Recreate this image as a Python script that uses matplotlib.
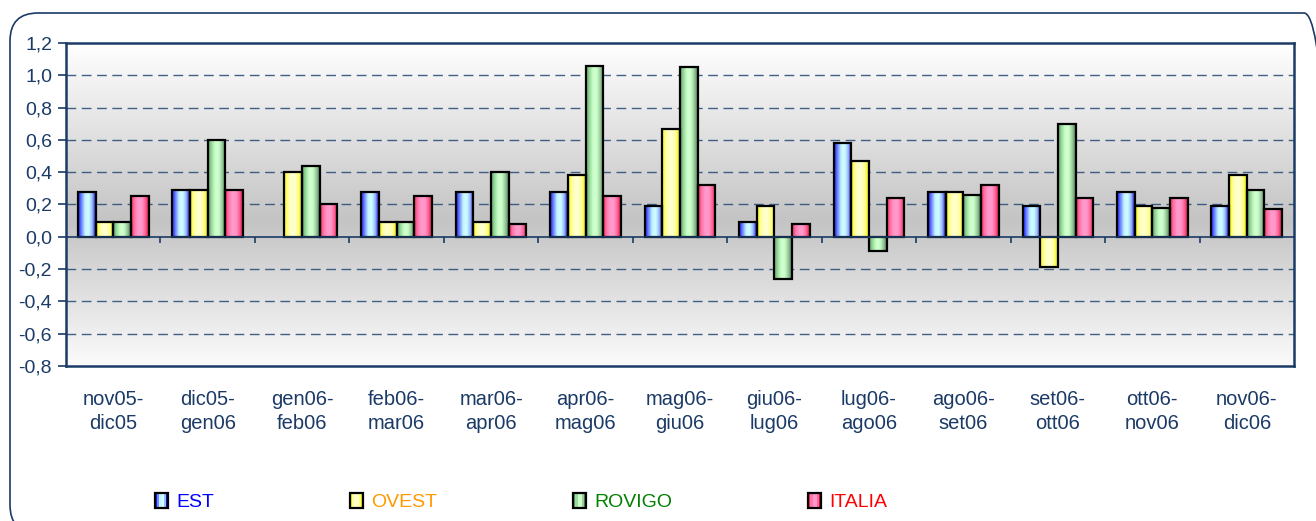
import numpy as np
import matplotlib
matplotlib.use("Agg")
import matplotlib.pyplot as plt
from matplotlib.colors import LinearSegmentedColormap
from matplotlib.patches import FancyBboxPatch, Rectangle
from matplotlib.legend_handler import HandlerBase

plt.rcParams['font.family'] = ['Liberation Sans', 'DejaVu Sans']

# ---------------- data ----------------
categories = ["nov05-\ndic05", "dic05-\ngen06", "gen06-\nfeb06", "feb06-\nmar06",
              "mar06-\napr06", "apr06-\nmag06", "mag06-\ngiu06", "giu06-\nlug06",
              "lug06-\nago06", "ago06-\nset06", "set06-\nott06", "ott06-\nnov06",
              "nov06-\ndic06"]
series_names = ["EST", "OVEST", "ROVIGO", "ITALIA"]
est = [0.28, 0.29, np.nan, 0.28, 0.28, 0.28, 0.19, 0.09, 0.58, 0.28, 0.19, 0.28, 0.19]
ovest = [0.09, 0.29, 0.40, 0.09, 0.09, 0.38, 0.67, 0.19, 0.47, 0.28, -0.19, 0.19, 0.38]
rovigo = [0.09, 0.60, 0.44, 0.09, 0.40, 1.06, 1.05, -0.26, -0.09, 0.26, 0.70, 0.18, 0.29]
italia = [0.25, 0.29, 0.20, 0.25, 0.08, 0.25, 0.32, 0.08, 0.24, 0.32, 0.24, 0.24, 0.17]
yticks = [-0.8, -0.6, -0.4, -0.2, 0.0, 0.2, 0.4, 0.6, 0.8, 1.0, 1.2]
ytick_labels = ["-0,8", "-0,6", "-0,4", "-0,2", "0,0", "0,2", "0,4", "0,6", "0,8", "1,0", "1,2"]

# ---------------- styles ----------------
grad_colors = {
    "EST": ['#1a1aff', '#6f8cff', '#c8f4ff', '#ccffff', '#9ab8ff', '#1010d0'],
    "OVEST": ['#f5f500', '#ffff99', '#ffffcc', '#ffffcc', '#ffff88', '#e6e600'],
    "ROVIGO": ['#5f9f70', '#99dd99', '#ccffcc', '#ccffcc', '#99cc99', '#4f8060'],
    "ITALIA": ['#ff2a5a', '#ff77aa', '#ff99cc', '#ff99cc', '#ff6699', '#dd1144'],
}
text_colors = {"EST": "#0000ff", "OVEST": "#ff9900", "ROVIGO": "#008000", "ITALIA": "#ff0000"}
navy = "#1b3a66"

W, H = 1316, 521
fig = plt.figure(figsize=(W / 100, H / 100), dpi=100)
fig.patch.set_facecolor("white")

# outer rounded frame (coordinates in inches)
frame = FancyBboxPatch((0.10, -0.12), 13.22, 5.20, boxstyle="round,pad=0,rounding_size=0.28",
                       transform=fig.dpi_scale_trans, facecolor="none", edgecolor=navy,
                       linewidth=1.2, zorder=0)
fig.add_artist(frame)

left, right, top, bottom = 66, 1294, 43, 366
ax = fig.add_axes([left / W, 1 - bottom / H, (right - left) / W, (bottom - top) / H])

ymin, ymax = -0.8, 1.2

# background gradient
zfrac = (0.1 - ymin) / (ymax - ymin)
bg_cmap = LinearSegmentedColormap.from_list(
    "bg", [(0, "#fbfbfb"), (zfrac, "#c4c4c4"), (1, "#ffffff")])
grad = np.linspace(0, 1, 256).reshape(-1, 1)
ax.imshow(grad, extent=[0, 1, 0, 1], transform=ax.transAxes, cmap=bg_cmap,
          aspect="auto", origin="lower", zorder=0)

# grid lines
for v in yticks:
    if v in (ymin, ymax, 0.0):
        continue
    ax.axhline(v, color="#2f5079", lw=1.0, dashes=(7, 4), zorder=1, alpha=0.9)

# bars
x = np.arange(len(categories))
bw = 0.187
all_series = [est, ovest, rovigo, italia]
hgrad = np.linspace(0, 1, 64).reshape(1, -1)
for i, (name, vals) in enumerate(zip(series_names, all_series)):
    offs = (i - 1.5) * bw
    bars = ax.bar(x + offs, vals, width=bw, facecolor="none", edgecolor="black",
                  linewidth=1.6, zorder=4)
    cmap = LinearSegmentedColormap.from_list(name, grad_colors[name])
    for b, v in zip(bars, vals):
        if np.isnan(v):
            continue
        x0 = b.get_x()
        y0 = b.get_y()
        hh = b.get_height()
        ax.imshow(hgrad, extent=[x0, x0 + bw, min(y0, y0 + hh), max(y0, y0 + hh)],
                  cmap=cmap, aspect="auto", zorder=3, interpolation="bilinear")

ax.set_xlim(-0.5, len(categories) - 0.5)
ax.set_ylim(ymin, ymax)

# zero axis line and boundary tick marks
ax.axhline(0, color=navy, lw=1.2, zorder=5)
tick_len = 6 / 161.5
ax.vlines(np.arange(len(categories) - 1) + 0.5, -tick_len, 0, color=navy, lw=1.2, zorder=5)

# axes styling
for s in ax.spines.values():
    s.set_color(navy)
    s.set_linewidth(1.8)
    s.set_zorder(6)

ax.set_yticks(yticks)
ax.set_yticklabels(ytick_labels)
ax.set_xticks(x)
ax.set_xticklabels(categories, linespacing=1.35)
ax.tick_params(axis="y", length=6, width=1.2, color=navy, labelcolor=navy,
               labelsize=14, pad=4)
ax.tick_params(axis="x", length=0, labelcolor=navy, labelsize=14.5, pad=17)


# legend with gradient handles
class GradHandle:
    def __init__(self, name):
        self.name = name


class GradHandler(HandlerBase):
    def create_artists(self, legend, orig_handle, xdescent, ydescent, width, height,
                       fontsize, trans):
        cols = grad_colors[orig_handle.name]
        n = len(cols)
        arts = []
        for k, c in enumerate(cols):
            arts.append(Rectangle((-xdescent + k * width / n, -ydescent), width / n, height,
                                  facecolor=c, edgecolor="none", transform=trans))
        arts.append(Rectangle((-xdescent, -ydescent), width, height, fill=False,
                              edgecolor="black", linewidth=1.6, transform=trans))
        return arts


handles = [GradHandle(n) for n in series_names]
leg = fig.legend(handles, series_names, handler_map={GradHandle: GradHandler()},
                 loc="center left", bbox_to_anchor=(155 / W, 1 - 502 / H), ncol=4,
                 frameon=False, fontsize=14, borderpad=0, borderaxespad=0,
                 handlelength=0.68, handleheight=0.78, handletextpad=0.4,
                 columnspacing=7.0)
for t, n in zip(leg.get_texts(), series_names):
    t.set_color(text_colors[n])

fig.savefig("out.png", dpi=100)
